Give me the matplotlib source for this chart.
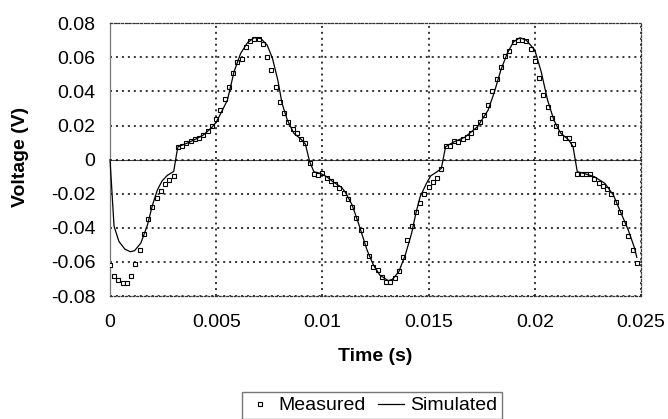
import matplotlib as mpl
import matplotlib.pyplot as plt

mpl.use("Agg")
mpl.rcParams["font.family"] = ["Liberation Sans", "DejaVu Sans"]
mpl.rcParams["font.size"] = 14

# measured samples (time in s, voltage in V)
meas_t = [
    0.0000, 0.0002, 0.0004, 0.0006, 0.0008, 0.0010, 0.0012, 0.0014, 0.0016, 0.0018,
    0.0020, 0.0022, 0.0024, 0.0026, 0.0028, 0.0030, 0.0032, 0.0034, 0.0036, 0.0038,
    0.0040, 0.0042, 0.0044, 0.0046, 0.0048, 0.0050, 0.0052, 0.0054, 0.0056, 0.0058,
    0.0060, 0.0062, 0.0064, 0.0066, 0.0068, 0.0070, 0.0072, 0.0074, 0.0076, 0.0078,
    0.0080, 0.0082, 0.0084, 0.0086, 0.0088, 0.0090, 0.0092, 0.0094, 0.0096, 0.0098,
    0.0100, 0.0102, 0.0104, 0.0106, 0.0108, 0.0110, 0.0112, 0.0114, 0.0116, 0.0118,
    0.0120, 0.0122, 0.0124, 0.0126, 0.0128, 0.0130, 0.0132, 0.0134, 0.0136, 0.0138,
    0.0140, 0.0142, 0.0144, 0.0146, 0.0148, 0.0150, 0.0152, 0.0154, 0.0156, 0.0158,
    0.0160, 0.0162, 0.0164, 0.0166, 0.0168, 0.0170, 0.0172, 0.0174, 0.0176, 0.0178,
    0.0180, 0.0182, 0.0184, 0.0186, 0.0188, 0.0190, 0.0192, 0.0194, 0.0196, 0.0198,
    0.0200, 0.0202, 0.0204, 0.0206, 0.0208, 0.0210, 0.0212, 0.0214, 0.0216, 0.0218,
    0.0220, 0.0222, 0.0224, 0.0226, 0.0228, 0.0230, 0.0232, 0.0234, 0.0236, 0.0238,
    0.0240, 0.0242, 0.0244, 0.0246, 0.0248,
]
meas_v = [
    -0.0620, -0.0680, -0.0706, -0.0722, -0.0722, -0.0680, -0.0610, -0.0530, -0.0438, -0.0348,
    -0.0276, -0.0223, -0.0184, -0.0143, -0.0120, -0.0094, 0.0074, 0.0080, 0.0096, 0.0107,
    0.0119, 0.0128, 0.0144, 0.0168, 0.0197, 0.0238, 0.0290, 0.0354, 0.0428, 0.0510,
    0.0574, 0.0588, 0.0662, 0.0694, 0.0707, 0.0706, 0.0676, 0.0604, 0.0526, 0.0428,
    0.0340, 0.0272, 0.0222, 0.0178, 0.0154, 0.0119, 0.0099, -0.0017, -0.0082, -0.0090,
    -0.0078, -0.0105, -0.0123, -0.0141, -0.0165, -0.0194, -0.0229, -0.0276, -0.0340, -0.0413,
    -0.0487, -0.0565, -0.0628, -0.0647, -0.0690, -0.0716, -0.0720, -0.0693, -0.0653, -0.0570,
    -0.0472, -0.0390, -0.0306, -0.0253, -0.0199, -0.0162, -0.0131, -0.0106, -0.0057, 0.0080,
    0.0080, 0.0109, 0.0105, 0.0119, 0.0134, 0.0158, 0.0193, 0.0222, 0.0262, 0.0320,
    0.0404, 0.0473, 0.0545, 0.0608, 0.0639, 0.0692, 0.0701, 0.0701, 0.0697, 0.0649,
    0.0578, 0.0480, 0.0379, 0.0310, 0.0246, 0.0197, 0.0158, 0.0128, 0.0125, 0.0090,
    -0.0086, -0.0086, -0.0083, -0.0086, -0.0114, -0.0135, -0.0155, -0.0174, -0.0202, -0.0250,
    -0.0306, -0.0370, -0.0448, -0.0530, -0.0605,
]

# simulated curve
sim_t = [
    0.0, 0.00019, 0.00042, 0.0007, 0.00095, 0.00115, 0.00145, 0.00176, 0.0020, 0.00223,
    0.00245, 0.0027, 0.0030, 0.00314, 0.0032, 0.0036, 0.0040, 0.0044, 0.0048, 0.0050,
    0.00525, 0.00553, 0.00584, 0.00615, 0.00647, 0.00678, 0.0071, 0.0074, 0.00765, 0.0079,
    0.0081, 0.00835, 0.00866, 0.0090, 0.0092, 0.0094, 0.0096, 0.0099, 0.0102, 0.0105,
    0.0109, 0.0111, 0.0114, 0.0117, 0.0121, 0.0124, 0.0127, 0.0131, 0.0133, 0.0136,
    0.0139, 0.0142, 0.0144, 0.0146, 0.0149, 0.0151, 0.0154, 0.0156, 0.0158, 0.0162,
    0.0167, 0.0173, 0.0178, 0.0181, 0.0184, 0.0187, 0.0190, 0.0193, 0.0196, 0.0200,
    0.0203, 0.0206, 0.0209, 0.0212, 0.0216, 0.0218, 0.0220, 0.0223, 0.0228, 0.0233,
    0.0237, 0.0240, 0.0244, 0.0247, 0.0248,
]
sim_v = [
    0.0, -0.039, -0.048, -0.0525, -0.054, -0.0535, -0.049, -0.0385, -0.0266, -0.0178,
    -0.0125, -0.0092, -0.0069, 0.0037, 0.0076, 0.0095, 0.0118, 0.0145, 0.019, 0.022,
    0.028, 0.035, 0.0516, 0.0623, 0.0686, 0.0715, 0.0711, 0.0672, 0.0594, 0.0467,
    0.033, 0.0232, 0.0154, 0.0119, 0.0091, -0.0012, -0.0071, -0.008, -0.010, -0.013,
    -0.0162, -0.0195, -0.0266, -0.0374, -0.053, -0.0618, -0.0677, -0.071, -0.0702, -0.0657,
    -0.056, -0.0432, -0.0315, -0.0218, -0.0139, -0.0095, -0.0071, -0.0051, 0.0076, 0.0105,
    0.0131, 0.0193, 0.029, 0.0398, 0.0525, 0.0623, 0.0692, 0.0715, 0.0701, 0.0643,
    0.0516, 0.035, 0.0232, 0.0158, 0.0115, 0.0076, -0.0071, -0.008, -0.010, -0.0139,
    -0.0208, -0.0296, -0.0413, -0.052, -0.0573,
]

x_ticks = [0, 0.005, 0.01, 0.015, 0.02, 0.025]
x_labels = ["0", "0.005", "0.01", "0.015", "0.02", "0.025"]
y_ticks = [-0.08, -0.06, -0.04, -0.02, 0, 0.02, 0.04, 0.06, 0.08]
y_labels = ["-0.08", "-0.06", "-0.04", "-0.02", "0", "0.02", "0.04", "0.06", "0.08"]

fig = plt.figure(figsize=(6.68, 4.19), dpi=100)
ax = fig.add_axes([110 / 668, 1 - 296 / 419, 531 / 668, 272.7 / 419])

ax.set_xlim(0, 0.025)
ax.set_ylim(-0.08, 0.08)
ax.set_xticks(x_ticks, x_labels)
ax.set_yticks(y_ticks, y_labels)
ax.tick_params(length=0, labelsize=14)
ax.tick_params(axis="y", pad=10.5)
ax.tick_params(axis="x", pad=13)

ax.grid(True, color="black", linewidth=1.1, linestyle=(0, (1.3, 2.6)))
ax.axhline(0, color="#444444", linewidth=0.8, zorder=1.5)

for side in ["top", "right", "bottom"]:
    ax.spines[side].set_linestyle((0, (1.5, 1.5)))
    ax.spines[side].set_color("#333333")
    ax.spines[side].set_linewidth(0.9)
ax.spines["left"].set_color("#777777")
ax.spines["left"].set_linewidth(0.9)

ax.plot(meas_t, meas_v, ls="", marker="s", markersize=3.2, mfc="white",
        mec="black", mew=0.8, label="Measured", zorder=3)
ax.plot(sim_t, sim_v, color="black", linewidth=0.9, label="Simulated",
        zorder=4, clip_on=False)

fig.text(375.5 / 668, 1 - 356 / 419, "Time (s)", fontweight="bold",
         fontsize=14, ha="center", va="center")
fig.text(20.5 / 668, 1 - 157 / 419, "Voltage (V)", fontweight="bold",
         fontsize=14, ha="center", va="center", rotation=90)

fig.legend(loc="upper left", bbox_to_anchor=(242 / 668, 1 - 392 / 419), ncol=2,
           frameon=True, fancybox=False, edgecolor="#777777", framealpha=1,
           handlelength=1.34, handletextpad=0.3, columnspacing=0.6,
           borderpad=0.25, borderaxespad=0, fontsize=14, markerscale=0.7)

fig.savefig("out.png", dpi=100)
